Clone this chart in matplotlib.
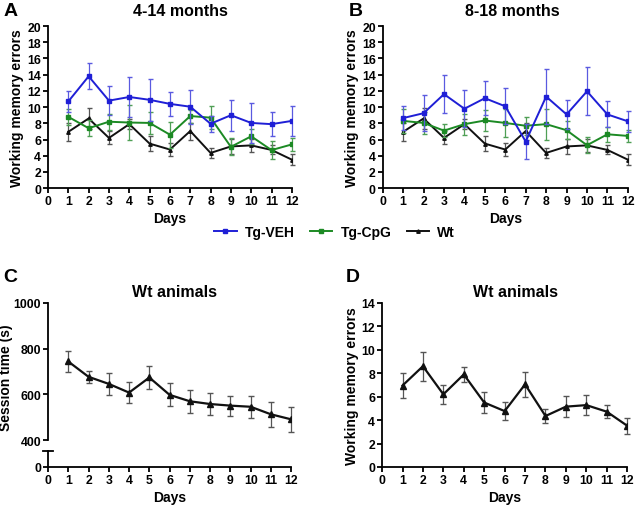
import numpy as np
import matplotlib
matplotlib.use("Agg")
import matplotlib.pyplot as plt
from matplotlib.lines import Line2D

plt.rcParams['font.family'] = ['Liberation Sans', 'DejaVu Sans']
plt.rcParams['font.weight'] = 'bold'
plt.rcParams['axes.labelweight'] = 'bold'
plt.rcParams['axes.linewidth'] = 1.3

days = np.arange(1, 13)

# Panel A: 4-14 months
veh_a = [10.7, 13.8, 10.8, 11.25, 10.9, 10.4, 10.05, 7.95, 9.0, 8.05, 7.9, 8.3]
veh_a_err = [1.3, 1.6, 1.8, 2.5, 2.6, 1.5, 2.1, 1.0, 1.9, 2.5, 1.5, 1.8]
cpg_a = [8.8, 7.4, 8.2, 8.1, 8.05, 6.6, 8.9, 8.7, 5.1, 6.4, 4.7, 5.4]
cpg_a_err = [1.0, 1.0, 1.0, 2.1, 1.4, 1.6, 0.8, 1.4, 1.05, 0.9, 1.1, 0.75]

# Panel B: 8-18 months
veh_b = [8.65, 9.25, 11.6, 9.8, 11.1, 10.1, 5.75, 11.3, 9.1, 11.95, 9.1, 8.25]
veh_b_err = [1.5, 2.2, 2.3, 2.3, 2.1, 2.2, 2.2, 3.4, 1.75, 2.95, 1.6, 1.3]
cpg_b = [8.3, 8.05, 7.1, 7.9, 8.35, 8.05, 7.7, 7.9, 7.15, 5.3, 6.65, 6.45]
cpg_b_err = [1.5, 1.4, 0.8, 1.3, 1.3, 1.7, 1.1, 1.9, 1.1, 1.0, 0.9, 0.75]

# Wt animals (same data in A, B and D)
wt = [6.95, 8.6, 6.2, 7.9, 5.5, 4.77, 7.05, 4.35, 5.15, 5.28, 4.72, 3.52]
wt_err = [1.1, 1.25, 0.8, 0.65, 0.9, 0.75, 1.05, 0.58, 0.9, 0.85, 0.55, 0.67]

# Panel C: session time of Wt animals
session = [744, 677, 646, 608, 674, 598, 570, 558, 551, 546, 513, 491]
session_err = [46, 25, 47, 45, 50, 50, 50, 50, 44, 49, 54, 54]

BLUE = '#1f1fd6'
GREEN = '#1c8a24'
BLACK = '#111111'

fig = plt.figure(figsize=(6.4, 5.1), dpi=100)

def style_axis(ax, ymax, ystep):
    ax.spines['top'].set_visible(False)
    ax.spines['right'].set_visible(False)
    ax.set_xlim(0, 12)
    ax.set_xticks(range(0, 13))
    ax.set_ylim(0, ymax)
    ax.set_yticks(np.arange(0, ymax + 1, ystep))
    ax.tick_params(labelsize=8.8, width=1.3, length=3.5, pad=1.5)
    ax.set_xlabel('Days', fontsize=10, labelpad=3)

def draw(ax, y, err, color, ecolor, marker, ms, lw, z, capsize=1.8):
    _, caps, bars = ax.errorbar(days, y, yerr=err, color=color, ecolor=ecolor, lw=lw,
                                elinewidth=0.9, capsize=capsize, marker=marker, ms=ms, zorder=z)
    for c in list(caps) + list(bars):
        c.set_clip_on(False)

def group_panel(ax, veh, veh_err, cpg, cpg_err):
    draw(ax, wt, wt_err, BLACK, '#555555', '^', 2.5, 1.4, 2)
    draw(ax, cpg, cpg_err, GREEN, '#4f9f55', 's', 2.5, 1.4, 3)
    draw(ax, veh, veh_err, BLUE, '#5a5ae0', 's', 2.5, 1.4, 4)
    style_axis(ax, 20, 2)
    ax.set_ylabel('Working memory errors', fontsize=10, labelpad=2)

# A
ax_a = fig.add_axes([0.075, 0.629, 0.381, 0.318])
group_panel(ax_a, veh_a, veh_a_err, cpg_a, cpg_a_err)
fig.text(0.282, 0.977, '4-14 months', ha='center', va='center', fontsize=11.5, fontweight='bold')
fig.text(0.005, 0.977, 'A', ha='left', va='center', fontsize=14, fontweight='bold')

# B
ax_b = fig.add_axes([0.598, 0.629, 0.383, 0.318])
group_panel(ax_b, veh_b, veh_b_err, cpg_b, cpg_b_err)
fig.text(0.80, 0.977, '8-18 months', ha='center', va='center', fontsize=11.5, fontweight='bold')
fig.text(0.545, 0.977, 'B', ha='left', va='center', fontsize=14, fontweight='bold')

# legend
handles = [Line2D([], [], color=BLUE, lw=1.4, marker='s', ms=2.5),
           Line2D([], [], color=GREEN, lw=1.4, marker='s', ms=2.5),
           Line2D([], [], color=BLACK, lw=1.4, marker='^', ms=2.5)]
fig.legend(handles, ['Tg-VEH', 'Tg-CpG', 'Wt'],
           loc='center', bbox_to_anchor=(0.523, 0.543), ncol=3, frameon=False,
           fontsize=10, handlelength=1.6, columnspacing=1.1, handletextpad=0.6)

# C: broken y axis
ax_c = fig.add_axes([0.075, 0.135, 0.380, 0.269])
ax_c0 = fig.add_axes([0.075, 0.0824, 0.380, 0.031], sharex=ax_c)
draw(ax_c, session, session_err, BLACK, '#555555', '^', 4, 1.6, 2, capsize=2.2)
for sp in ['top', 'right', 'bottom']:
    ax_c.spines[sp].set_visible(False)
ax_c.set_ylim(400, 1000)
ax_c.set_yticks([400, 600, 800, 1000])
ax_c.tick_params(axis='x', bottom=False, labelbottom=False)
ax_c.tick_params(axis='y', labelsize=8.8, width=1.3, length=3.5, pad=1.5)
ax_c.set_ylabel('Session time (s)', fontsize=10)
ax_c.yaxis.set_label_coords(-0.145, 0.46)
style_axis(ax_c0, 1, 1)
ax_c0.set_yticks([0])
ax_c0.plot([-0.02, 0.02], [1, 1], transform=ax_c0.transAxes, color='black',
           lw=1.3, clip_on=False)
fig.text(0.272, 0.427, 'Wt animals', ha='center', va='center', fontsize=11.5, fontweight='bold')
fig.text(0.005, 0.455, 'C', ha='left', va='center', fontsize=14, fontweight='bold')

# D
ax_d = fig.add_axes([0.597, 0.0824, 0.383, 0.3216])
draw(ax_d, wt, wt_err, BLACK, '#555555', '^', 4, 1.6, 2, capsize=2.2)
style_axis(ax_d, 14, 2)
ax_d.set_ylabel('Working memory errors', fontsize=10, labelpad=2)
fig.text(0.805, 0.427, 'Wt animals', ha='center', va='center', fontsize=11.5, fontweight='bold')
fig.text(0.540, 0.455, 'D', ha='left', va='center', fontsize=14, fontweight='bold')

fig.savefig('out.png', dpi=100)
